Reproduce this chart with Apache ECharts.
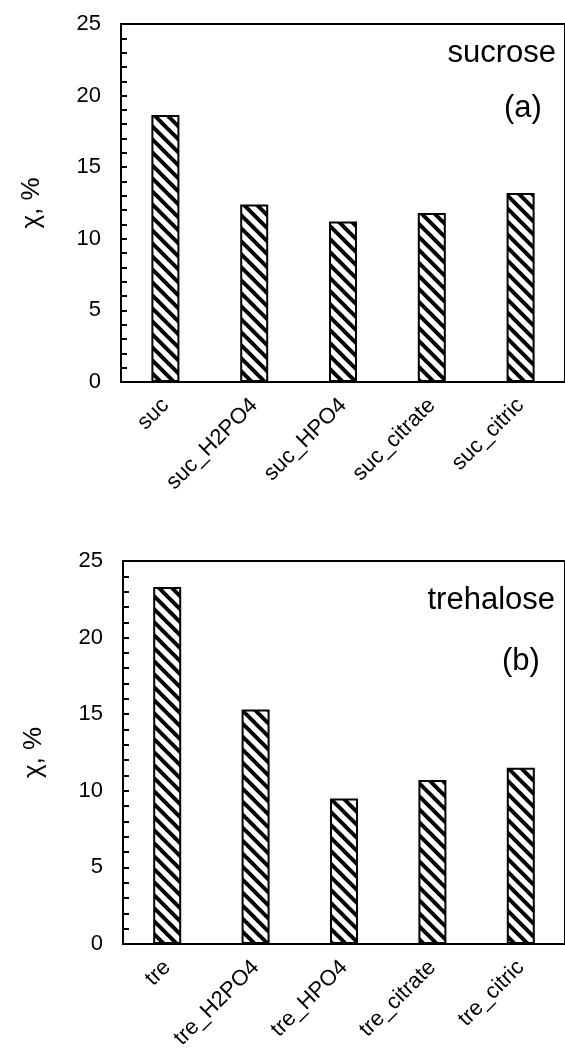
<!DOCTYPE html>
<html>
<head>
<meta charset="utf-8">
<script src="https://cdn.jsdelivr.net/npm/echarts@6/dist/echarts.min.js"></script>
<style>
html,body{margin:0;padding:0;background:#fff;}
#chart{width:565px;height:1055px;}
</style>
</head>
<body>
<div id="chart"></div>
<script>
// ---- data ----
const sucCategories = ['suc', 'suc_H2PO4', 'suc_HPO4', 'suc_citrate', 'suc_citric'];
const sucValues = [18.65, 12.4, 11.2, 11.8, 13.2];
const treCategories = ['tre', 'tre_H2PO4', 'tre_HPO4', 'tre_citrate', 'tre_citric'];
const treValues = [23.3, 15.3, 9.5, 10.7, 11.5];
const yAxisName = 'χ, %';
const yMin = 0, yMax = 25, yInterval = 5;
const panelTitles = ['sucrose', 'trehalose'];
const panelTags = ['(a)', '(b)'];

// ---- hatch pattern ----
function makeHatch() {
  const s = 13;
  const c = document.createElement('canvas');
  c.width = s; c.height = s;
  const g = c.getContext('2d');
  g.fillStyle = '#fff';
  g.fillRect(0, 0, s, s);
  g.strokeStyle = '#000';
  g.lineWidth = 4;
  for (let k = -1; k <= 1; k++) {
    g.beginPath();
    g.moveTo(k * s - 2, -2);
    g.lineTo(k * s + s + 2, s + 2);
    g.stroke();
  }
  return c;
}
const hatch = { image: makeHatch(), repeat: 'repeat' };

const FONT = 'Liberation Sans, Arial, sans-serif';

function xAxisCfg(gridIndex, cats) {
  return {
    type: 'category', gridIndex: gridIndex, data: cats,
    axisLine: { show: true, lineStyle: { color: '#000', width: 2 } },
    axisTick: { show: false },
    axisLabel: { rotate: 45, margin: 20, color: '#000', fontSize: 22, fontFamily: FONT, interval: 0 },
    splitLine: { show: false }
  };
}
function yAxisCfg(gridIndex) {
  return {
    type: 'value', gridIndex: gridIndex, min: yMin, max: yMax, interval: yInterval,
    name: yAxisName, nameLocation: 'middle', nameRotate: 90, nameGap: 76,
    nameTextStyle: { color: '#000', fontSize: 26, fontFamily: FONT },
    axisLine: { show: true, lineStyle: { color: '#000', width: 2 } },
    axisTick: { show: true, inside: true, length: 6, lineStyle: { color: '#000', width: 2 } },
    minorTick: { show: true, splitNumber: 5, length: 6, lineStyle: { color: '#000', width: 2 } },
    axisLabel: { color: '#000', fontSize: 22, fontFamily: FONT, margin: 20 },
    splitLine: { show: false }
  };
}
function barSeries(idx, vals) {
  return {
    type: 'bar', xAxisIndex: idx, yAxisIndex: idx, data: vals, barWidth: 28,
    itemStyle: { color: hatch, borderColor: '#000', borderWidth: 2 },
    emphasis: { disabled: true }, animation: false
  };
}

const chart = echarts.init(document.getElementById('chart'), null, { renderer: 'canvas' });
chart.setOption({
  animation: false,
  backgroundColor: '#fff',
  grid: [
    { left: 121, top: 24, width: 451, height: 358, show: true, borderColor: '#000', borderWidth: 2, backgroundColor: 'transparent' },
    { left: 123, top: 561, width: 449, height: 383, show: true, borderColor: '#000', borderWidth: 2, backgroundColor: 'transparent' }
  ],
  xAxis: [xAxisCfg(0, sucCategories), xAxisCfg(1, treCategories)],
  yAxis: [yAxisCfg(0), yAxisCfg(1)],
  series: [barSeries(0, sucValues), barSeries(1, treValues)],
  graphic: [
    { type: 'text', right: 9, top: 38, style: { text: panelTitles[0], font: '31px ' + FONT, fill: '#000' } },
    { type: 'text', left: 504, top: 93, style: { text: panelTags[0], font: '31px ' + FONT, fill: '#000' } },
    { type: 'text', right: 10, top: 585, style: { text: panelTitles[1], font: '31px ' + FONT, fill: '#000' } },
    { type: 'text', left: 502, top: 646, style: { text: panelTags[1], font: '31px ' + FONT, fill: '#000' } }
  ]
});
</script>
</body>
</html>
